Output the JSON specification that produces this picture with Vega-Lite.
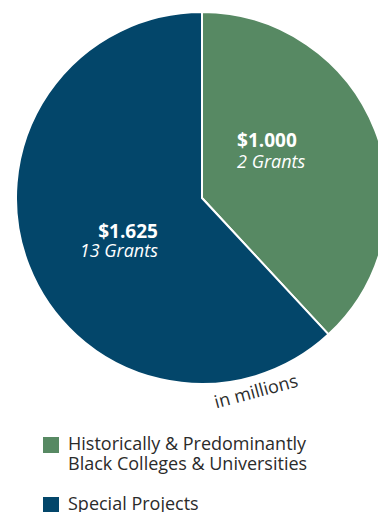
{
  "$schema": "https://vega.github.io/schema/vega-lite/v6.json",
  "width": 404,
  "height": 396,
  "autosize": {"type": "none"},
  "padding": {"left": 0, "top": 0, "right": -26, "bottom": 116},
  "background": "white",
  "datasets": {
    "grants": [
      {"category": "Historically & Predominantly|Black Colleges & Universities", "amount": 1.0, "amount_label": "$1.000", "grants": "2 Grants"},
      {"category": "Special Projects", "amount": 1.625, "amount_label": "$1.625", "grants": "13 Grants"}
    ],
    "notes": [{"note": "in millions"}]
  },
  "layer": [
    {
      "data": {"name": "grants"},
      "mark": {"type": "arc", "outerRadius": 186, "stroke": "white", "strokeWidth": 2},
      "encoding": {
        "theta": {"field": "amount", "type": "quantitative", "stack": true},
        "order": {"field": "amount", "type": "quantitative", "sort": "ascending"},
        "color": {
          "field": "category",
          "type": "nominal",
          "scale": {"domain": ["Historically & Predominantly|Black Colleges & Universities", "Special Projects"], "range": ["#578963", "#03466a"]},
          "legend": {
            "title": null,
            "orient": "none",
            "legendX": 42,
            "legendY": 436,
            "direction": "vertical",
            "symbolType": "square",
            "symbolSize": 256,
            "symbolStrokeWidth": 0,
            "symbolOpacity": 1,
            "labelExpr": "split(datum.label, '|')",
            "labelFont": "Open Sans",
            "labelFontSize": 18,
            "labelColor": "#2b2b2b",
            "labelOffset": 8,
            "labelLimit": 320,
            "rowPadding": 22,
            "padding": 0
          }
        }
      }
    },
    {
      "data": {"name": "grants"},
      "mark": {"type": "text", "radius": 100, "font": "Open Sans", "fontWeight": "bold", "fontSize": 19, "color": "white", "align": "left", "baseline": "alphabetic", "dx": -58, "dy": -14},
      "encoding": {
        "theta": {"field": "amount", "type": "quantitative", "stack": true},
        "order": {"field": "amount", "type": "quantitative", "sort": "ascending"},
        "text": {"condition": {"test": "datum.category !== 'Special Projects'", "field": "amount_label", "type": "nominal"}, "value": ""}
      }
    },
    {
      "data": {"name": "grants"},
      "mark": {"type": "text", "radius": 100, "font": "Open Sans", "fontStyle": "italic", "fontSize": 18, "color": "white", "align": "left", "baseline": "alphabetic", "dx": -58, "dy": 7},
      "encoding": {
        "theta": {"field": "amount", "type": "quantitative", "stack": true},
        "order": {"field": "amount", "type": "quantitative", "sort": "ascending"},
        "text": {"condition": {"test": "datum.category !== 'Special Projects'", "field": "grants", "type": "nominal"}, "value": ""}
      }
    },
    {
      "data": {"name": "grants"},
      "mark": {"type": "text", "radius": 100, "font": "Open Sans", "fontWeight": "bold", "fontSize": 19, "color": "white", "align": "right", "baseline": "alphabetic", "dx": 49, "dy": 3},
      "encoding": {
        "theta": {"field": "amount", "type": "quantitative", "stack": true},
        "order": {"field": "amount", "type": "quantitative", "sort": "ascending"},
        "text": {"condition": {"test": "datum.category === 'Special Projects'", "field": "amount_label", "type": "nominal"}, "value": ""}
      }
    },
    {
      "data": {"name": "grants"},
      "mark": {"type": "text", "radius": 100, "font": "Open Sans", "fontStyle": "italic", "fontSize": 18, "color": "white", "align": "right", "baseline": "alphabetic", "dx": 49, "dy": 22},
      "encoding": {
        "theta": {"field": "amount", "type": "quantitative", "stack": true},
        "order": {"field": "amount", "type": "quantitative", "sort": "ascending"},
        "text": {"condition": {"test": "datum.category === 'Special Projects'", "field": "grants", "type": "nominal"}, "value": ""}
      }
    },
    {
      "data": {"name": "notes"},
      "mark": {"type": "text", "radius": 202, "font": "Open Sans", "fontSize": 18, "color": "#2b2b2b", "align": "center", "baseline": "middle", "angle": 345},
      "encoding": {
        "theta": {"value": 2.869},
        "text": {"field": "note", "type": "nominal"}
      }
    }
  ],
  "config": {"view": {"stroke": null}}
}
